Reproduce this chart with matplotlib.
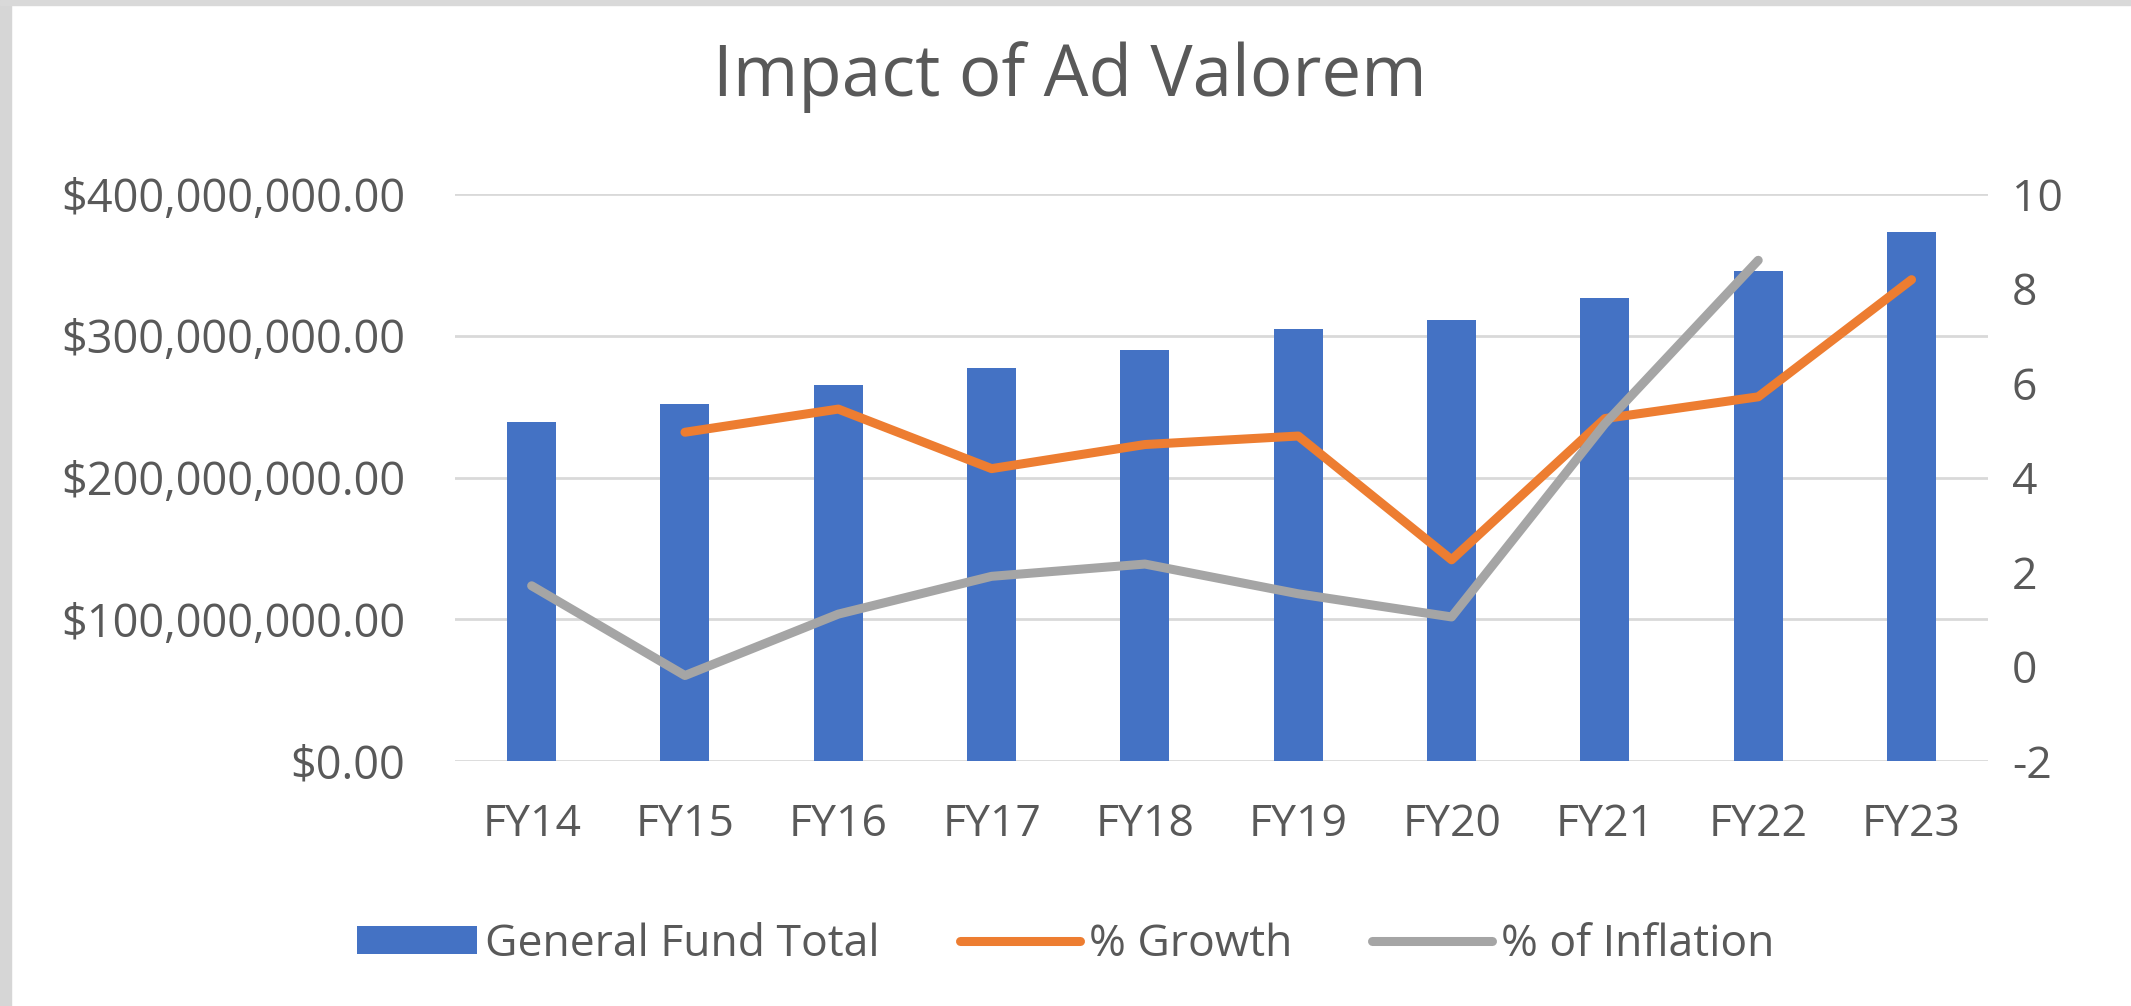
import numpy as np
import matplotlib
matplotlib.use('Agg')
import matplotlib.pyplot as plt
from matplotlib.patches import Rectangle
from matplotlib.ticker import FuncFormatter

years = ['FY14', 'FY15', 'FY16', 'FY17', 'FY18', 'FY19', 'FY20', 'FY21', 'FY22', 'FY23']
fundTotal = [239e6, 252e6, 265e6, 277e6, 290e6, 305e6, 311e6, 327e6, 346e6, 373e6]
growth = [np.nan, 4.96, 5.45, 4.19, 4.7, 4.88, 2.26, 5.25, 5.71, 8.19]
inflation = [1.71, -0.19, 1.11, 1.91, 2.17, 1.54, 1.05, 5.14, 8.6, np.nan]

textColor = '#595959'
plt.rcParams['font.family'] = ['Open Sans', 'DejaVu Sans']
plt.rcParams['axes.unicode_minus'] = False

fig = plt.figure(figsize=(21.31, 10.06), dpi=100)
ax = fig.add_axes([0.2135, 0.2435, 0.7195, 0.5635])
x = np.arange(len(years))

bars = ax.bar(x, fundTotal, width=0.32, color='#4472C4', label='General Fund Total', zorder=2)
ax.set_xlim(-0.5, 9.5)
ax.set_ylim(0, 400e6)
ax.set_yticks(np.arange(0, 400e6 + 1, 100e6))
ax.yaxis.set_major_formatter(FuncFormatter(lambda v, p: '${:,.2f}'.format(v)))
ax.grid(axis='y', color='#D9D9D9', linewidth=2, zorder=0)
ax.set_axisbelow(True)
ax.set_xticks(x)
ax.set_xticklabels(years)
for s in ax.spines.values():
    s.set_visible(False)
ax.tick_params(axis='y', length=0, pad=36, labelsize=32.5, labelcolor=textColor)
ax.tick_params(axis='x', length=0, pad=30, labelsize=32, labelcolor=textColor)

ax2 = ax.twinx()
l1, = ax2.plot(x, growth, color='#ED7D31', linewidth=6.5, solid_capstyle='round', label='% Growth')
l2, = ax2.plot(x, inflation, color='#A5A5A5', linewidth=6.5, solid_capstyle='round', label='% of Inflation')
ax2.set_ylim(-2, 10)
ax2.set_yticks(np.arange(-2, 11, 2))
for s in ax2.spines.values():
    s.set_visible(False)
ax2.tick_params(axis='y', length=0, pad=17, labelsize=32, labelcolor=textColor)

fig.text(0.502, 0.923, 'Impact of Ad Valorem', ha='center', va='center', fontsize=51, color=textColor)

fig.legend(handles=[bars, l1, l2], loc='center', bbox_to_anchor=(0.5, 0.061), ncol=3,
           frameon=False, fontsize=32, labelcolor=textColor, handlelength=2.7,
           handleheight=0.6, handletextpad=0.2, columnspacing=1.8)

# grey screenshot border
fig.patches.append(Rectangle((0, 0), 11 / 2131, 1, transform=fig.transFigure, color='#D6D6D6', zorder=-1))
fig.patches.append(Rectangle((0, 1 - 5 / 1006), 1, 5 / 1006, transform=fig.transFigure, color='#D9D9D9', zorder=-1))

fig.savefig('out.png', dpi=100)
